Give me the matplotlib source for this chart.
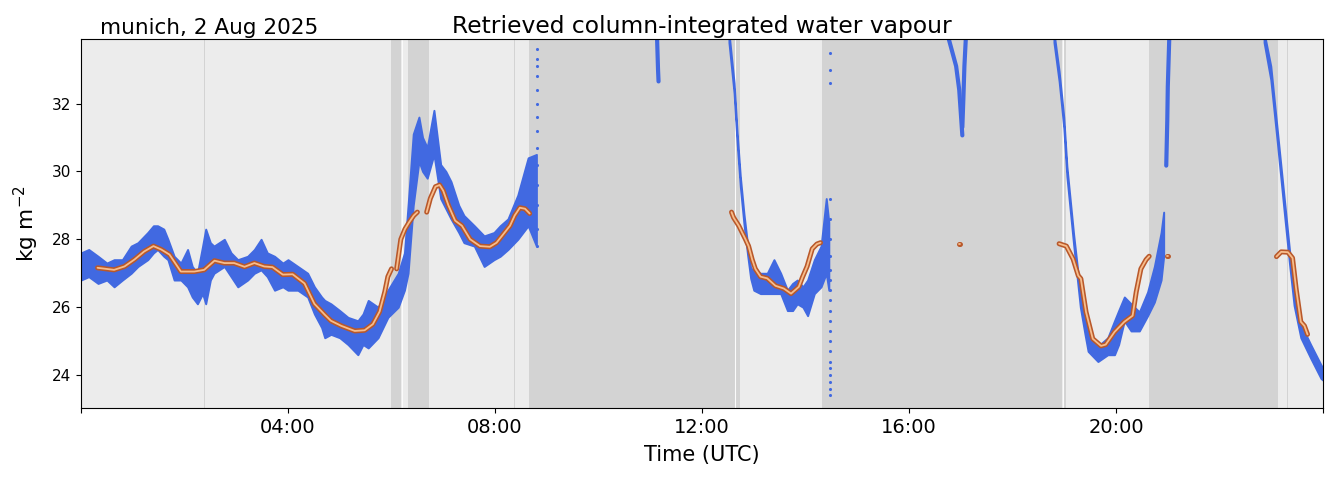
import matplotlib
matplotlib.use('Agg')
import matplotlib.pyplot as plt
from matplotlib.ticker import FuncFormatter

# --- flag spans (hours UTC) ---
dark_spans = [(5.99, 6.18), (6.32, 6.72), (8.66, 12.63), (12.66, 12.74),
              (14.32, 18.96), (18.99, 19.04), (20.64, 23.12)]
thin_flags = [2.38, 8.37, 23.32]
white_lines = [6.20, 12.645, 18.975]

# --- retrieved IWV, envelopes (lo / hi) per continuous chunk ---
t_a = [0.00, 0.15, 0.33, 0.50, 0.64, 0.80, 0.97, 1.10, 1.29, 1.40, 1.48, 1.60, 1.68, 1.80,
       1.93, 2.06, 2.15, 2.25, 2.35, 2.41, 2.50, 2.57, 2.77, 2.90, 3.03, 3.22, 3.35, 3.48,
       3.60, 3.74, 3.90, 4.00, 4.19, 4.38, 4.51, 4.65, 4.71, 4.83, 5.00, 5.16, 5.35, 5.45,
       5.55, 5.74, 5.93, 6.13, 6.25, 6.32, 6.42, 6.53, 6.60, 6.69, 6.82, 6.95, 7.05, 7.15,
       7.30, 7.40, 7.60, 7.79, 7.98, 8.10, 8.25, 8.44, 8.64, 8.80]
lo_a = [26.8, 26.9, 26.7, 26.8, 26.6, 26.8, 27.0, 27.2, 27.4, 27.6, 27.7, 27.5, 27.4, 26.8,
        26.8, 26.6, 26.3, 26.1, 26.4, 26.1, 26.8, 27.0, 27.2, 26.9, 26.6, 26.8, 27.0, 27.1,
        26.9, 26.5, 26.6, 26.5, 26.5, 26.3, 25.8, 25.4, 25.1, 25.2, 25.1, 24.9, 24.6, 24.9,
        24.8, 25.1, 25.7, 26.0, 26.5, 27.0, 29.0, 30.3, 30.0, 29.8, 30.5, 29.2, 28.9, 28.6,
        28.2, 27.9, 27.8, 27.2, 27.4, 27.5, 27.7, 28.0, 28.4, 27.8]
hi_a = [27.6, 27.7, 27.5, 27.3, 27.4, 27.4, 27.8, 27.9, 28.2, 28.4, 28.4, 28.3, 28.0, 27.5,
        27.3, 27.7, 27.2, 27.0, 27.8, 28.3, 27.9, 27.8, 28.0, 27.6, 27.4, 27.5, 27.7, 28.0,
        27.6, 27.5, 27.3, 27.4, 27.2, 27.0, 26.6, 26.3, 26.2, 26.1, 25.9, 25.7, 25.6, 25.8,
        26.2, 26.0, 26.5, 27.0, 27.6, 29.0, 31.1, 31.6, 31.0, 30.7, 31.8, 30.2, 30.0, 29.7,
        29.0, 28.7, 28.4, 28.1, 28.2, 28.4, 28.6, 29.3, 30.4, 30.5]

t_c = [12.52, 12.62, 12.68, 12.74, 12.81, 12.88, 12.94, 13.00, 13.13, 13.26, 13.39, 13.52,
       13.65, 13.75, 13.84, 13.95, 14.04, 14.17, 14.30, 14.40, 14.45]
lo_c = [33.8, 32.3, 30.8, 29.55, 28.45, 27.55, 26.85, 26.5, 26.4, 26.4, 26.4, 26.4,
        25.9, 25.9, 26.1, 26.0, 25.75, 26.4, 26.6, 27.0, 26.5]
hi_c = [34.1, 32.6, 31.1, 29.85, 28.75, 27.85, 27.15, 27.1, 27.0, 27.0, 27.4, 27.0,
        26.5, 26.7, 26.8, 26.6, 26.8, 27.4, 27.8, 29.2, 28.5]

t_e = [18.80, 18.90, 18.99, 19.05, 19.18, 19.31, 19.40, 19.46, 19.65, 19.84, 19.97, 20.05,
       20.16, 20.29, 20.45, 20.61, 20.74, 20.87, 20.92]
lo_e = [33.8, 32.65, 31.3, 29.85, 27.85, 26.0, 25.2, 24.7, 24.4, 24.6, 24.6, 24.9,
        25.6, 25.3, 25.3, 25.75, 26.15, 26.8, 27.5]
hi_e = [34.1, 32.95, 31.6, 30.15, 28.15, 26.4, 25.8, 25.3, 24.85, 25.1, 25.6, 25.9,
        26.3, 26.1, 25.86, 26.45, 27.2, 28.2, 28.8]

t_g = [22.86, 22.99, 23.12, 23.25, 23.35, 23.44, 23.57, 23.76, 23.96, 24.00]
lo_g = [33.8, 32.7, 30.8, 28.8, 27.3, 26.05, 25.1, 24.5, 23.9, 23.85]
hi_g = [34.1, 33.1, 31.15, 29.2, 27.7, 26.45, 25.5, 24.9, 24.3, 24.2]

# short streaks (thin traces)
streak_b_t = [11.13, 11.15, 11.16]
streak_b_v = [34.0, 33.0, 32.65]
streak_d1_t = [16.75, 16.91, 16.97, 17.03]
streak_d1_v = [34.0, 33.1, 32.4, 31.06]
streak_d2_t = [17.10, 17.07, 17.05, 17.03]
streak_d2_v = [34.0, 33.1, 32.15, 31.3]
streak_f_t = [20.97, 20.99, 21.00, 21.03]
streak_f_v = [30.17, 31.5, 32.5, 34.0]

# sparse columns of isolated points
sparse_t = [8.82] * 14 + [14.48] * 22
sparse_v = [27.8, 28.3, 29.0, 29.6, 30.2, 30.7, 31.2, 31.6, 32.0, 32.4, 32.8, 33.1, 33.3, 33.6,
            23.4, 23.6, 23.8, 24.0, 24.2, 24.4, 24.7, 25.0, 25.3, 25.6, 25.9, 26.2, 26.5,
            26.8, 27.1, 27.5, 28.0, 28.6, 29.2, 32.6, 33.0, 33.5]

# --- smoothed IWV (segments) ---
smooth_segments = [
    ([0.32, 0.64, 0.84, 1.03, 1.22, 1.40, 1.55, 1.71, 1.93, 2.19, 2.38, 2.58, 2.77, 2.96, 3.16,
      3.35, 3.54, 3.70, 3.90, 4.09, 4.32, 4.51, 4.71, 4.83, 5.03, 5.29, 5.48, 5.64, 5.77, 5.87,
      5.93, 6.00],
     [27.16, 27.1, 27.2, 27.4, 27.64, 27.8, 27.7, 27.55, 27.05, 27.05, 27.1, 27.37, 27.3, 27.3,
      27.19, 27.3, 27.2, 27.18, 26.96, 26.97, 26.7, 26.1, 25.78, 25.6, 25.45, 25.3, 25.32, 25.5,
      25.87, 26.45, 26.9, 27.13]),
    ([6.10, 6.18, 6.26, 6.34, 6.43, 6.50],
     [27.13, 28.0, 28.3, 28.5, 28.7, 28.8]),
    ([6.68, 6.75, 6.85, 6.93, 7.00, 7.10, 7.23, 7.36, 7.52, 7.71, 7.90, 8.03, 8.16, 8.29, 8.38,
      8.48, 8.58, 8.67],
     [28.8, 29.2, 29.55, 29.6, 29.43, 29.0, 28.55, 28.4, 28.0, 27.8, 27.78, 27.9, 28.15, 28.4,
      28.7, 28.93, 28.9, 28.76]),
    ([12.57, 12.61, 12.71, 12.84, 12.90, 12.97, 13.03, 13.13, 13.26, 13.42, 13.58, 13.72, 13.87,
      13.94, 14.03, 14.13, 14.22, 14.29],
     [28.8, 28.64, 28.4, 28.0, 27.8, 27.4, 27.13, 26.9, 26.85, 26.63, 26.55, 26.4, 26.6, 26.88,
      27.2, 27.72, 27.86, 27.9]),
    ([16.96, 16.98], [27.87, 27.87]),
    ([18.90, 19.04, 19.17, 19.27, 19.32, 19.42, 19.55, 19.71, 19.80, 19.97, 20.16, 20.32, 20.39,
      20.48, 20.58, 20.64],
     [27.87, 27.8, 27.42, 26.93, 26.84, 25.86, 25.07, 24.86, 24.9, 25.27, 25.57, 25.75, 26.45,
      27.13, 27.4, 27.5]),
    ([20.98, 21.00], [27.5, 27.5]),
    ([23.10, 23.19, 23.32, 23.41, 23.48, 23.57, 23.64, 23.70],
     [27.49, 27.63, 27.62, 27.45, 26.54, 25.57, 25.45, 25.2]),
]

blue = 'royalblue'

fig = plt.figure(figsize=(13.34, 4.78), dpi=100)
ax = fig.add_axes([0.0607, 0.1464, 0.9311, 0.772])
ax.set_facecolor('#ececec')

for a, b in dark_spans:
    ax.axvspan(a, b, color='#d3d3d3', lw=0, zorder=0)
for x in thin_flags:
    ax.axvspan(x - 0.012, x + 0.012, color='#d3d3d3', lw=0, zorder=0)
for x in white_lines:
    ax.axvline(x, color='white', lw=0.8, alpha=0.8, zorder=0.5)

for t, lo, hi in [(t_a, lo_a, hi_a), (t_c, lo_c, hi_c), (t_e, lo_e, hi_e), (t_g, lo_g, hi_g)]:
    ax.fill_between(t, lo, hi, facecolor=blue, edgecolor=blue, lw=1.4, zorder=2)

for t, v in [(streak_b_t, streak_b_v), (streak_d1_t, streak_d1_v),
             (streak_d2_t, streak_d2_v), (streak_f_t, streak_f_v)]:
    ax.plot(t, v, color=blue, lw=3, solid_capstyle='round', zorder=2)

ax.scatter(sparse_t, sparse_v, s=5, color=blue, lw=0, zorder=2)

for t, v in smooth_segments:
    ax.plot(t, v, color='#b9582a', lw=3.6, solid_capstyle='round', zorder=3)
    ax.plot(t, v, color='#f7bd8c', lw=1.3, solid_capstyle='round', zorder=4)

ax.set_xlim(0, 24)
ax.set_ylim(23.03, 33.9)
ax.set_xticks([0, 4, 8, 12, 16, 20, 24])
ax.xaxis.set_major_formatter(FuncFormatter(
    lambda x, pos: '' if x in (0, 24) else f'{int(x):02d}:00'))
ax.set_yticks([24, 26, 28, 30, 32])
ax.tick_params(axis='x', labelsize=14)
ax.tick_params(axis='y', labelsize=11)

ax.set_title('Retrieved column-integrated water vapour', fontsize=16.8, pad=4)
ax.text(0.015, 1.004, 'munich, 2 Aug 2025', transform=ax.transAxes, fontsize=15.5,
        ha='left', va='bottom')
ax.set_xlabel('Time (UTC)', fontsize=15, labelpad=6)
ax.set_ylabel('kg m$^{-2}$', fontsize=15.5, labelpad=8)

fig.savefig('out.png', dpi=100)
